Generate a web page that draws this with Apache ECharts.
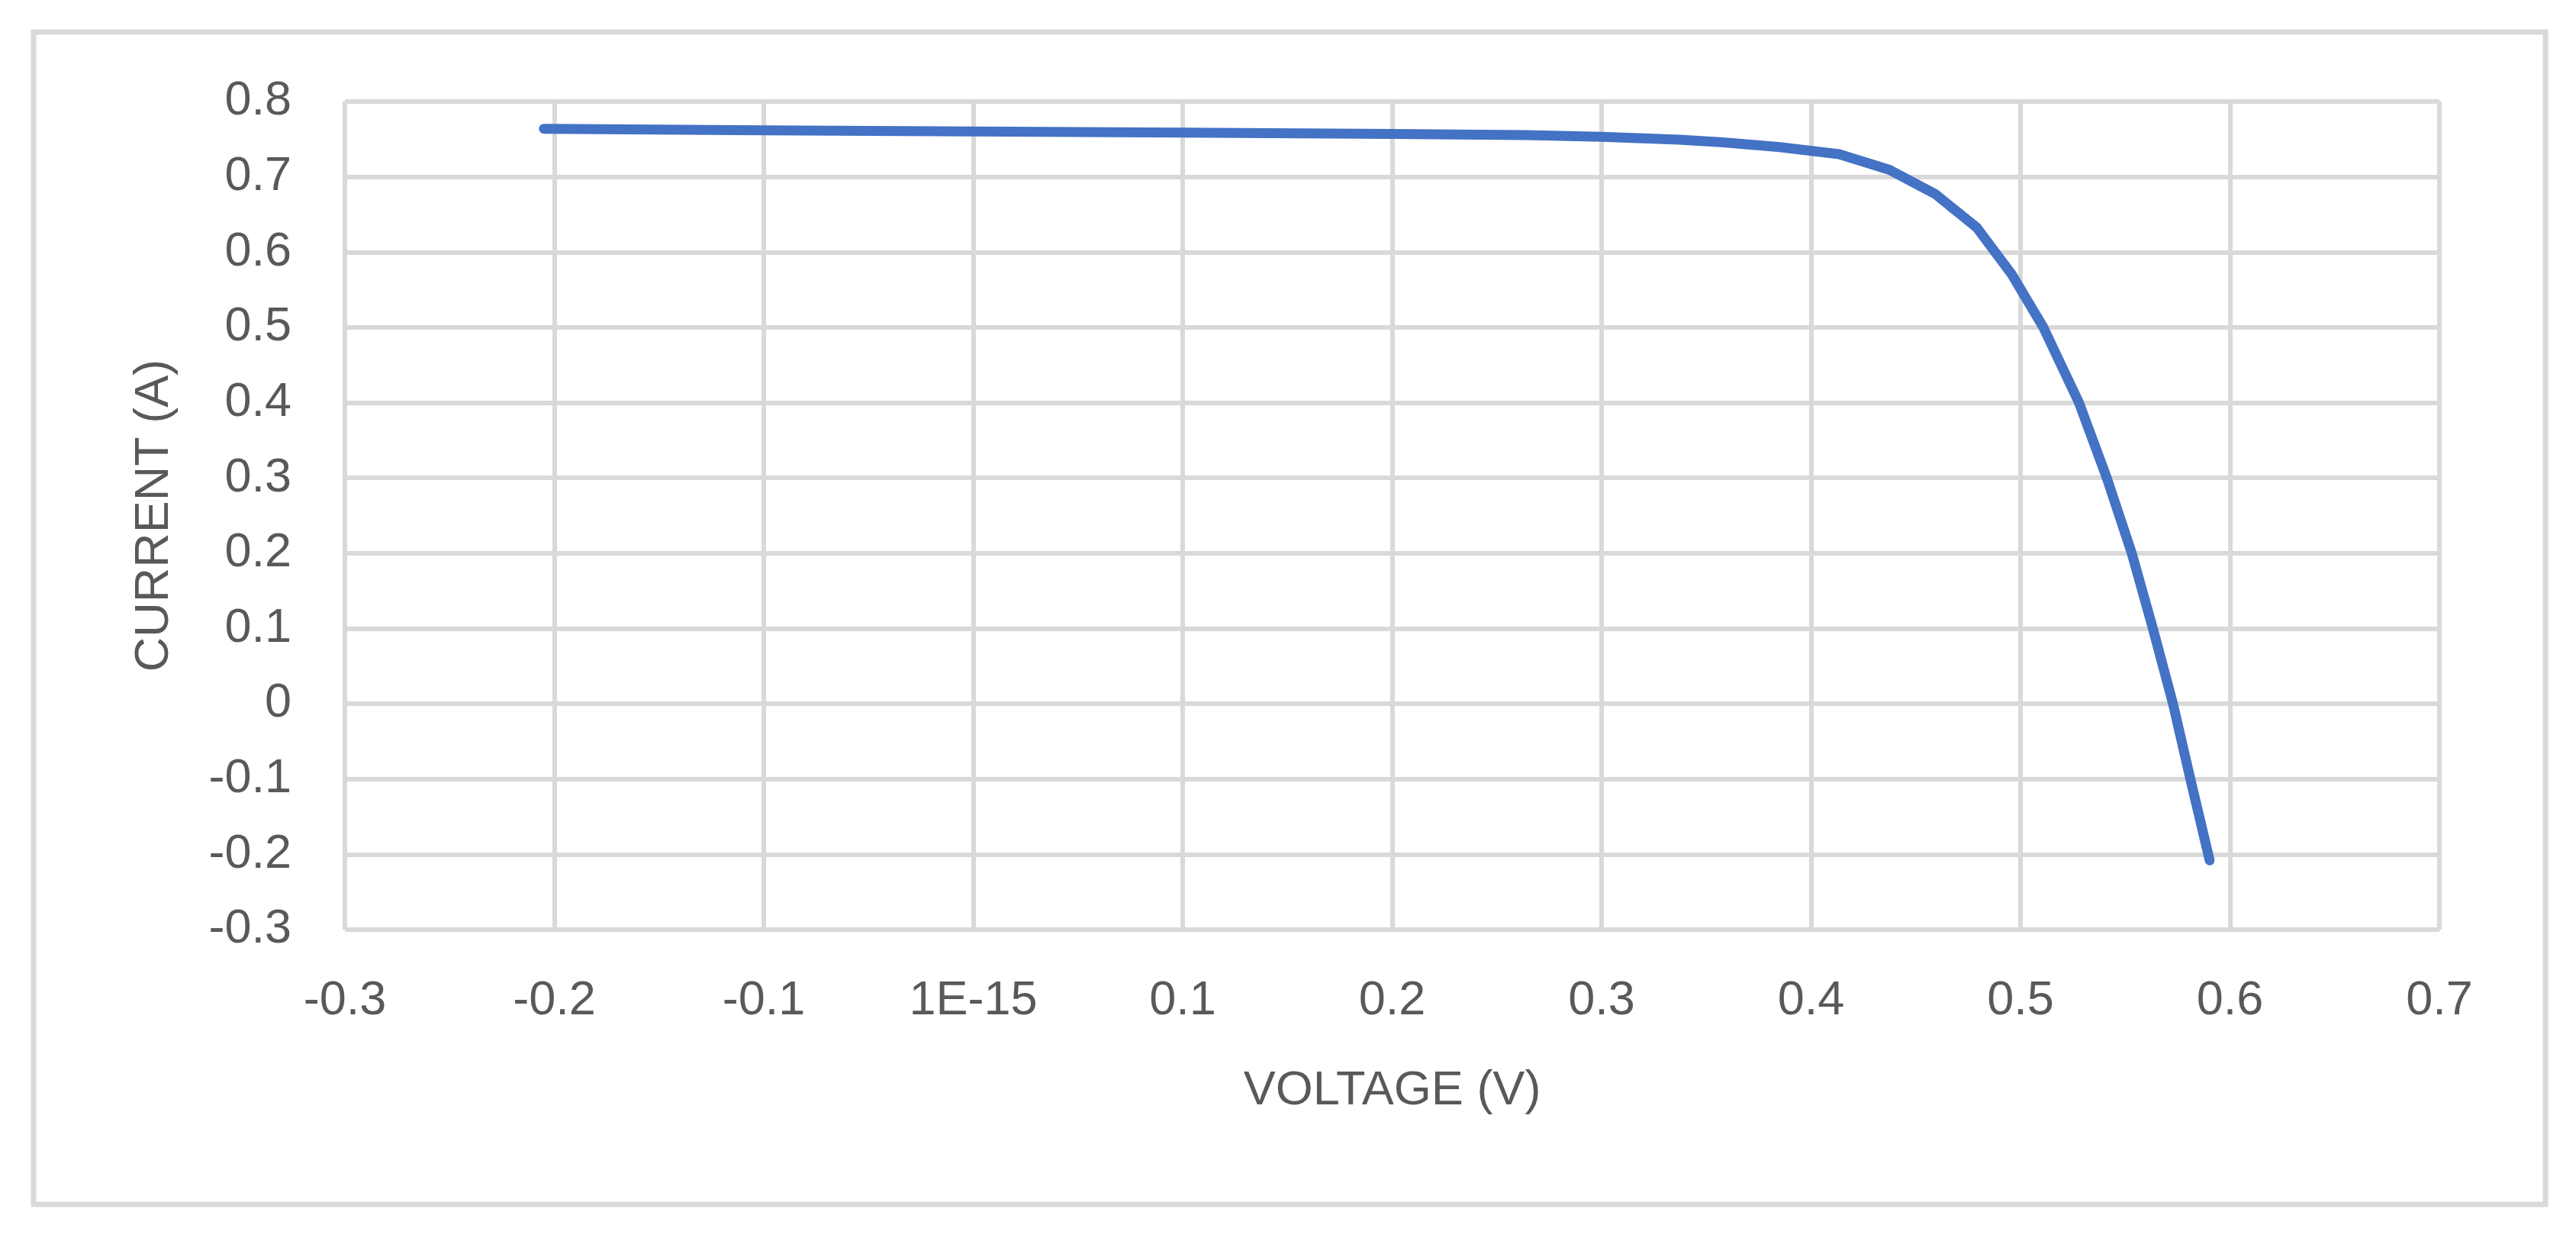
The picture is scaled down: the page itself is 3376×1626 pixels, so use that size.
<!DOCTYPE html>
<html>
<head>
<meta charset="utf-8">
<script src="https://cdn.jsdelivr.net/npm/echarts@6/dist/echarts.min.js"></script>
<style>
  html, body { margin: 0; padding: 0; background: #fff; }
  #chart { width: 3376px; height: 1626px; }
</style>
</head>
<body>
<div id="chart"></div>
<script>
// voltage (V) and current (A)
const voltage = [-0.205, -0.1, 0.0, 0.1, 0.2, 0.264, 0.3, 0.337, 0.358, 0.385, 0.4134, 0.4374, 0.4593, 0.4791, 0.4958, 0.5109, 0.5279, 0.5412, 0.5531, 0.5632, 0.5728, 0.5811, 0.5903];
const current = [0.7638, 0.7618, 0.7603, 0.7588, 0.757, 0.7554, 0.753, 0.7493, 0.7457, 0.7395, 0.730, 0.7093, 0.6771, 0.6326, 0.5705, 0.50, 0.40, 0.30, 0.20, 0.10, 0.0, -0.10, -0.208];
const xTickLabels = ['-0.3', '-0.2', '-0.1', '1E-15', '0.1', '0.2', '0.3', '0.4', '0.5', '0.6', '0.7'];
const yTickLabels = ['-0.3', '-0.2', '-0.1', '0', '0.1', '0.2', '0.3', '0.4', '0.5', '0.6', '0.7', '0.8'];

const textColor = '#595959';
const gridColor = '#D9D9D9';
const font = 'Liberation Sans';
const fontSize = 63;

const chart = echarts.init(document.getElementById('chart'));
chart.setOption({
  animation: false,
  backgroundColor: '#fff',
  graphic: [{
    type: 'rect',
    shape: { x: 44, y: 42, width: 3292, height: 1536 },
    style: { fill: 'none', stroke: gridColor, lineWidth: 7 },
    z: -1
  }],
  grid: { left: 452, right: 179, top: 133, bottom: 408 },
  xAxis: {
    type: 'value',
    min: -0.3,
    max: 0.7,
    interval: 0.1,
    name: 'VOLTAGE (V)',
    nameLocation: 'middle',
    nameGap: 180,
    nameTextStyle: { color: textColor, fontFamily: font, fontSize: fontSize },
    axisLine: { show: true, lineStyle: { color: gridColor, width: 6 } },
    axisTick: { show: false },
    axisLabel: {
      color: textColor, fontFamily: font, fontSize: fontSize, margin: 62,
      formatter: function (v) { return xTickLabels[Math.round((v + 0.3) * 10)]; }
    },
    splitLine: { show: true, lineStyle: { color: gridColor, width: 6 } }
  },
  yAxis: {
    type: 'value',
    min: -0.3,
    max: 0.8,
    interval: 0.1,
    name: 'CURRENT (A)',
    nameLocation: 'middle',
    nameGap: 218,
    nameTextStyle: { color: textColor, fontFamily: font, fontSize: fontSize },
    axisLine: { show: true, lineStyle: { color: gridColor, width: 6 } },
    axisTick: { show: false },
    axisLabel: {
      color: textColor, fontFamily: font, fontSize: fontSize, margin: 70,
      formatter: function (v) { return yTickLabels[Math.round((v + 0.3) * 10)]; }
    },
    splitLine: { show: true, lineStyle: { color: gridColor, width: 6 } }
  },
  series: [{
    type: 'line',
    data: voltage.map((v, i) => [v, current[i]]),
    showSymbol: false,
    symbol: 'none',
    smooth: false,
    lineStyle: { color: '#4472C4', width: 13, cap: 'round', join: 'round' }
  }]
});
</script>
</body>
</html>
